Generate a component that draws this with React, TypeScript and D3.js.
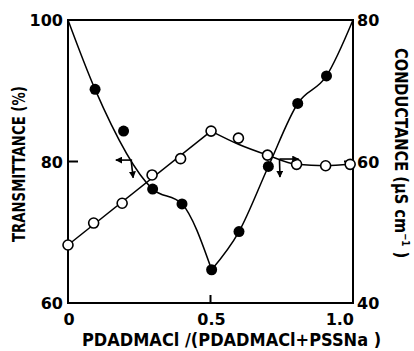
import React from "react";
import * as d3 from "d3";

// Molar fraction PDADMACl/(PDADMACl+PSSNa) and measured values
const transFraction = [0.095, 0.195, 0.297, 0.4, 0.504, 0.6, 0.703, 0.806, 0.907];
const transmittance = [90.2, 84.3, 76.1, 74.0, 64.7, 70.1, 79.3, 88.2, 92.1];

const condFraction = [0, 0.09, 0.19, 0.295, 0.395, 0.502, 0.598, 0.7, 0.802, 0.904, 0.99];
const conductance = [48.2, 51.3, 54.1, 58.1, 60.4, 64.3, 63.3, 60.9, 59.6, 59.4, 59.6];

// Hand-drawn guide curves through the data
const transLeftX = [0, 0.095, 0.297, 0.4, 0.504];
const transLeftY = [100, 90.2, 76.1, 74.0, 64.7];
const transRightX = [0.504, 0.6, 0.703, 0.806, 0.907, 1.0];
const transRightY = [64.7, 70.1, 79.3, 88.2, 92.1, 100];
const condRiseX = [0, 0.502];
const condRiseY = [48.2, 64.3];
const condFallX = [0.502, 0.6, 0.7, 0.802, 0.904, 0.99];
const condFallY = [64.3, 62.4, 60.9, 59.6, 59.4, 59.6];

// Axis ticks
const xTicks = [0, 0.5, 1.0];
const xTickLabels = ["0", "0.5", "1.0"];
const leftTicks = [60, 80, 100];
const rightTicks = [40, 60, 80];
const leftMinorTicks = [80];
const rightMinorTicks = [60];
const xMinorTicks = [0.5];

// Axis-pointer arrows (corner, horizontal tip x, vertical tip y)
const transArrow = { x: 0.225, y: 80.2, tipX: 0.168, tipY: 77.7 };
const condArrow = { x: 0.742, y: 60.35, tipX: 0.809, tipY: 57.8 };

const W = 414;
const H = 351;
const left = 68;
const right = 353;
const top = 20;
const bottom = 303;
const FONT = "'DejaVu Sans', sans-serif";

export default function App() {
  const x = d3.scaleLinear().domain([0, 1]).range([left, right]);
  const yT = d3.scaleLinear().domain([60, 100]).range([bottom, top]);
  const yC = d3.scaleLinear().domain([40, 80]).range([bottom, top]);

  const curve = (xs: number[], ys: number[], ys2: d3.ScaleLinear<number, number>, c: d3.CurveFactory) =>
    d3
      .line<number>()
      .x((_, i) => x(xs[i]))
      .y((_, i) => ys2(ys[i]))
      .curve(c)(xs) as string;

  const stroke = "#000";

  return (
    <svg
      width={W}
      height={H}
      viewBox={`0 0 ${W} ${H}`}
      style={{ position: "absolute", left: 0, top: 0, background: "#fff" }}
    >
      <defs>
        <marker id="ah" viewBox="0 0 10 10" refX="9" refY="5" markerWidth="7" markerHeight="7" markerUnits="userSpaceOnUse" orient="auto">
          <path d="M0,0 L10,5 L0,10 Z" fill="#000" />
        </marker>
      </defs>

      {/* guide curves */}
      <g fill="none" stroke={stroke} strokeWidth={1.5}>
        <path d={curve(transLeftX, transLeftY, yT, d3.curveMonotoneX)} />
        <path d={curve(transRightX, transRightY, yT, d3.curveMonotoneX)} />
        <path d={curve(condRiseX, condRiseY, yC, d3.curveLinear)} />
        <path d={curve(condFallX, condFallY, yC, d3.curveMonotoneX)} />
      </g>

      {/* frame */}
      <rect x={left} y={top} width={right - left} height={bottom - top} fill="none" stroke={stroke} strokeWidth={2} />

      {/* inward ticks */}
      <g stroke={stroke} strokeWidth={2}>
        {leftMinorTicks.map((t) => (
          <line key={`l${t}`} x1={left} x2={left + 10} y1={yT(t)} y2={yT(t)} />
        ))}
        {rightMinorTicks.map((t) => (
          <line key={`r${t}`} x1={right - 9} x2={right} y1={yC(t)} y2={yC(t)} />
        ))}
        {xMinorTicks.map((t) => (
          <line key={`x${t}`} x1={x(t)} x2={x(t)} y1={bottom} y2={bottom - 8} />
        ))}
      </g>

      {/* conductance points (open) */}
      {condFraction.map((f, i) => (
        <circle key={`c${i}`} cx={x(f)} cy={yC(conductance[i])} r={5} fill="#fff" stroke={stroke} strokeWidth={1.6} />
      ))}

      {/* transmittance points (filled) */}
      {transFraction.map((f, i) => (
        <circle key={`t${i}`} cx={x(f)} cy={yT(transmittance[i])} r={5.5} fill="#000" />
      ))}

      {/* arrows pointing to the relevant axis */}
      <g stroke={stroke} strokeWidth={1.6} fill="none">
        <line x1={x(transArrow.x)} y1={yT(transArrow.y)} x2={x(transArrow.tipX)} y2={yT(transArrow.y)} markerEnd="url(#ah)" />
        <line x1={x(transArrow.x) - 1} y1={yT(transArrow.y)} x2={x(transArrow.x) + 1} y2={yT(transArrow.tipY)} markerEnd="url(#ah)" />
        <line x1={x(condArrow.x)} y1={yC(condArrow.y)} x2={x(condArrow.tipX)} y2={yC(condArrow.y)} markerEnd="url(#ah)" />
        <line x1={x(condArrow.x)} y1={yC(condArrow.y)} x2={x(condArrow.x) + 0.5} y2={yC(condArrow.tipY)} markerEnd="url(#ah)" />
      </g>

      {/* tick labels */}
      <g fontFamily={FONT} fontWeight="bold" fontSize={16} fill="#000">
        {leftTicks.map((t) => (
          <text key={`lt${t}`} x={left - 5} y={yT(t) + 6} textAnchor="end">
            {t}
          </text>
        ))}
        {rightTicks.map((t) => (
          <text key={`rt${t}`} x={right + 4} y={yC(t) + 6} textAnchor="start">
            {t}
          </text>
        ))}
        {xTicks.map((t, i) => (
          <text
            key={`xt${t}`}
            x={x(t) + 1}
            y={bottom + 22}
            textAnchor={i === xTicks.length - 1 ? "end" : "middle"}
          >
            {xTickLabels[i]}
          </text>
        ))}
      </g>

      {/* axis titles, condensed along the reading direction */}
      <g fontFamily={FONT} fontWeight="bold" fill="#000">
        <text transform="translate(25,242) rotate(-90) scale(0.78,1)" fontSize={17}>
          TRANSMITTANCE (%)
        </text>
        <text transform="translate(395,48) rotate(90) scale(0.86,1)" fontSize={17}>
          CONDUCTANCE (μS cm
          <tspan fontSize={10} dy={-7}>−1</tspan>
          <tspan dy={7}> )</tspan>
        </text>
        <text transform="translate(82,346) scale(0.9,1)" fontSize={18}>
          PDADMACl /(PDADMACl+PSSNa )
        </text>
      </g>
    </svg>
  );
}
